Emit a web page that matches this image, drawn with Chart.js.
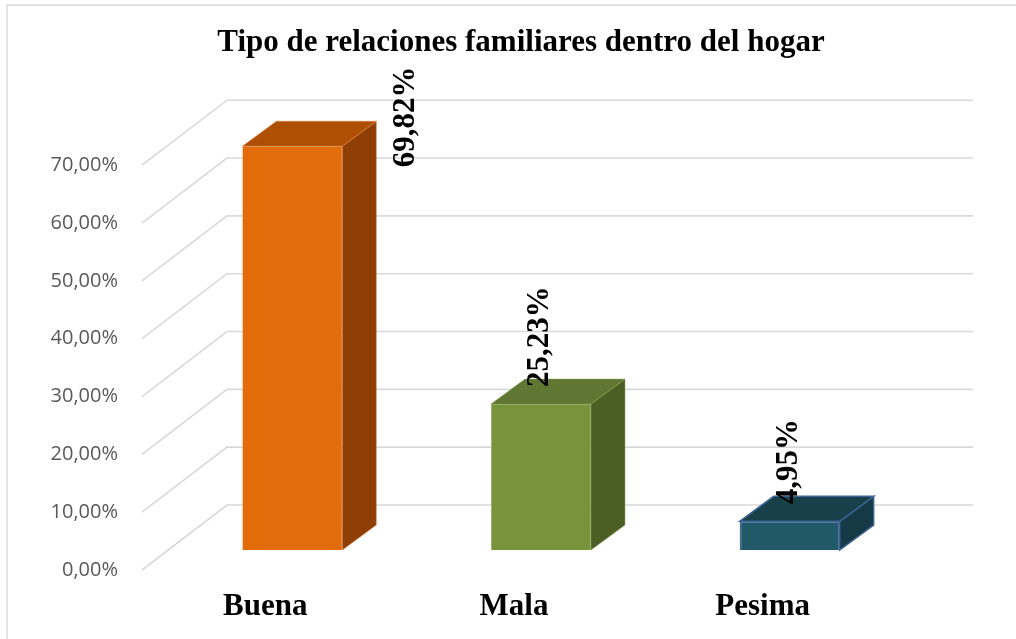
<!DOCTYPE html>
<html>
<head>
<meta charset="utf-8">
<script src="https://cdn.jsdelivr.net/npm/chart.js@4/dist/chart.umd.min.js"></script>
<style>
  html, body { margin: 0; padding: 0; background: #fff; }
  #wrap { width: 1016px; height: 639px; }
</style>
</head>
<body>
<div id="wrap"><canvas id="relChart"></canvas></div>
<script>
    // datos
    const categorias = ['Buena', 'Mala', 'Pesima'];
    const porcentajes = [69.82, 25.23, 4.95];
    const ticksY = [0, 10, 20, 30, 40, 50, 60, 70];

    const colorFrente = ['#e26b0a', '#77933c', '#215968'];
    const colorTapa = ['#ad4f05', '#5f7732', '#17404b'];
    const colorLado = ['#8f3f05', '#4b5e24', '#163a45'];
    const colorBorde = ['#e8823a', '#86a04c', '#3c6494'];

    const fmt = v => v.toFixed(2).replace('.', ',') + '%';

    // profundidad 3D
    const DX = 34, DY = -25;
    const FRONT = { dx: -26, dy: 20 };
    const BACK = { dx: 59, dy: -45 };

    const efecto3d = {
        id: 'efecto3d',
        beforeDraw(chart) {
            const c = chart.ctx;
            c.save();
            c.strokeStyle = '#d9d9d9';
            c.lineWidth = 1.5;
            c.strokeRect(7, 5, 1100, 700);
            c.restore();
        },
        beforeDatasetsDraw(chart) {
            const c = chart.ctx;
            const y = chart.scales.y;
            const a = chart.chartArea;
            c.save();
            c.strokeStyle = '#d9d9d9';
            c.lineWidth = 1.6;
            ticksY.forEach(v => {
                const py = y.getPixelForValue(v);
                c.beginPath();
                c.moveTo(a.left + FRONT.dx, py + FRONT.dy);
                c.lineTo(a.left + BACK.dx, py + BACK.dy);
                c.lineTo(a.right + BACK.dx, py + BACK.dy);
                c.stroke();
            });
            c.restore();
        },
        afterDatasetsDraw(chart) {
            const c = chart.ctx;
            const meta = chart.getDatasetMeta(0);
            c.save();
            meta.data.forEach((bar, i) => {
                const l = bar.x - bar.width / 2, r = bar.x + bar.width / 2;
                const t = bar.y, b = bar.base;
                // cara lateral
                c.beginPath();
                c.moveTo(r, t);
                c.lineTo(r + DX, t + DY);
                c.lineTo(r + DX, b + DY);
                c.lineTo(r, b);
                c.closePath();
                c.fillStyle = colorLado[i];
                c.fill();
                c.strokeStyle = colorBorde[i];
                c.lineWidth = i === 2 ? 1.5 : 0.5;
                c.stroke();
                // tapa
                c.beginPath();
                c.moveTo(l, t);
                c.lineTo(l + DX, t + DY);
                c.lineTo(r + DX, t + DY);
                c.lineTo(r, t);
                c.closePath();
                c.fillStyle = colorTapa[i];
                c.fill();
                c.stroke();
            });
            // etiquetas de datos
            c.font = 'bold 31px "Liberation Serif", "Times New Roman", serif';
            c.fillStyle = '#000';
            c.textAlign = 'left';
            c.textBaseline = 'middle';
            meta.data.forEach((bar, i) => {
                const txt = fmt(porcentajes[i]);
                const w = c.measureText(txt).width;
                let cx = bar.x - 1, sy = bar.y - 17;
                if (sy - w < 70) {
                    cx = bar.x + bar.width / 2 + DX + 30;
                    sy = bar.y + 21;
                }
                c.save();
                c.translate(cx, sy);
                c.rotate(-Math.PI / 2);
                c.fillText(txt, 0, 0);
                c.restore();
            });
            c.restore();
        }
    };

    const ctx = document.getElementById('relChart').getContext('2d');
    new Chart(ctx, {
        type: 'bar',
        data: {
            labels: categorias,
            datasets: [{
                data: porcentajes,
                backgroundColor: colorFrente,
                borderColor: colorBorde,
                borderWidth: [0.5, 0.5, 1.5],
                barPercentage: 0.402,
                categoryPercentage: 1
            }]
        },
        options: {
            responsive: true,
            maintainAspectRatio: false,
            animation: false,
            layout: { padding: { left: 26, right: 0, top: 0, bottom: 0 } },
            plugins: {
                legend: { display: false },
                tooltip: { enabled: false },
                title: {
                    display: true,
                    text: 'Tipo de relaciones familiares dentro del hogar',
                    color: '#000',
                    font: { family: '"Liberation Serif", "Times New Roman", serif', size: 31, weight: 'bold', lineHeight: 1.2 },
                    padding: { top: 24, bottom: 84 }
                }
            },
            scales: {
                x: {
                    grid: { display: false, drawTicks: false },
                    border: { display: false },
                    ticks: {
                        color: '#000',
                        font: { family: '"Liberation Serif", "Times New Roman", serif', size: 31, weight: 'bold' },
                        padding: 38,
                        labelOffset: -27
                    },
                    afterFit(s) { s.height = 89; }
                },
                y: {
                    min: 0,
                    max: 70,
                    grid: { display: false, drawTicks: false },
                    border: { display: false },
                    ticks: {
                        stepSize: 10,
                        color: '#595959',
                        font: { family: '"Open Sans", sans-serif', size: 20 },
                        padding: 50,
                        labelOffset: 20,
                        callback: v => fmt(v)
                    },
                    afterFit(s) { s.width = 142; }
                },
                margenDer: {
                    position: 'right',
                    grid: { display: false, drawTicks: false },
                    border: { display: false },
                    ticks: { display: false },
                    afterFit(s) { s.width = 102; }
                }
            }
        },
        plugins: [efecto3d]
    });
</script>
</body>
</html>
